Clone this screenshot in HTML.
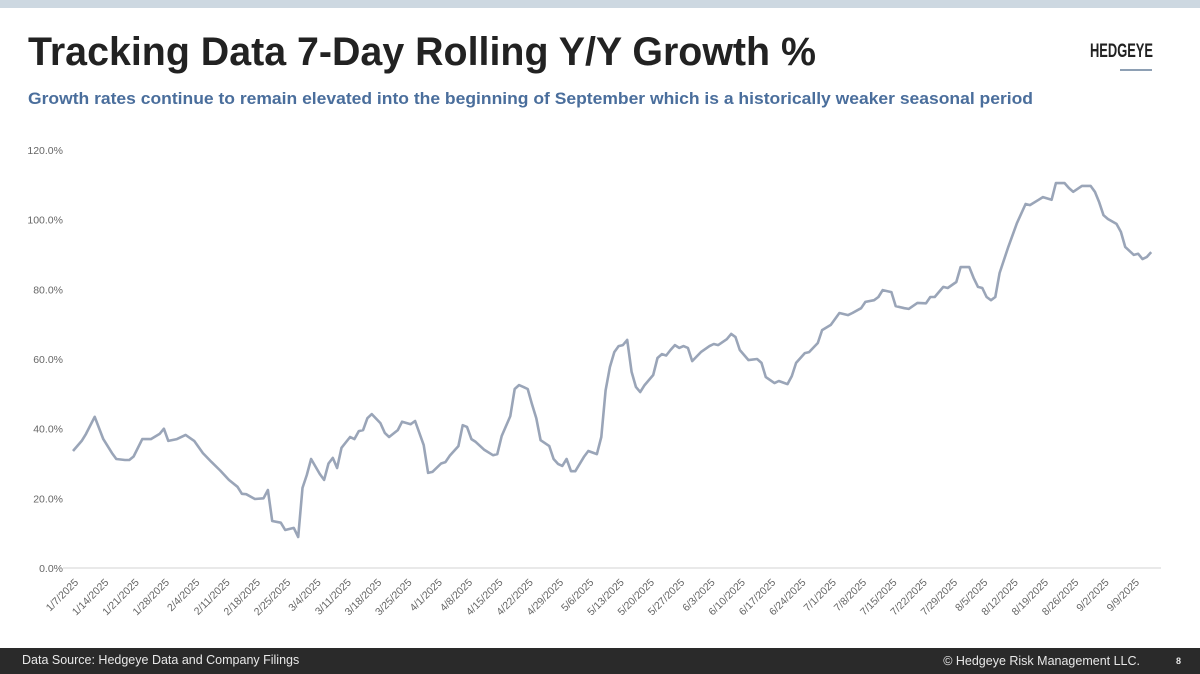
<!DOCTYPE html>
<html><head><meta charset="utf-8"><style>
html,body{margin:0;padding:0;background:#fff;}
svg{display:block;font-family:"Liberation Sans",sans-serif;}
</style></head><body>
<svg id="chart" width="1200" height="674" viewBox="0 0 1200 674">
<rect x="0" y="0" width="1200" height="8" fill="#cdd8e1"/>
<text x="28" y="65" font-size="40" font-weight="bold" fill="#222" textLength="788" lengthAdjust="spacingAndGlyphs">Tracking Data 7-Day Rolling Y/Y Growth %</text>
<text x="28" y="104" font-size="17" font-weight="bold" fill="#4a6e9c" textLength="1005" lengthAdjust="spacingAndGlyphs">Growth rates continue to remain elevated into the beginning of September which is a historically weaker seasonal period</text>
<text x="1090" y="57" font-size="19" font-weight="bold" fill="#222" textLength="63" lengthAdjust="spacingAndGlyphs">HEDGEYE</text>
<line x1="1120" y1="70" x2="1152" y2="70" stroke="#8ea0b4" stroke-width="2"/>
<g id="yaxis"></g>
<g id="xaxis"></g>
<line x1="63" y1="568" x2="1161" y2="568" stroke="#e2e2e2" stroke-width="1.5"/>
<path id="series" fill="none" stroke="#9aa5b8" stroke-width="2.6" stroke-linejoin="round"/>
<rect x="0" y="648" width="1200" height="26" fill="#2a2a2a"/>
<text x="22" y="664" font-size="12.5" fill="#e8e8e8">Data Source: Hedgeye Data and Company Filings</text>
<text x="1140" y="665" font-size="12.5" fill="#e8e8e8" text-anchor="end">© Hedgeye Risk Management LLC.</text>
<text x="1176" y="664" font-size="9" font-weight="bold" fill="#e8e8e8">8</text>
</svg>
<script>
const yTicks=[0,20,40,60,80,100,120];
const xTickLabels=["1/7/2025","1/14/2025","1/21/2025","1/28/2025","2/4/2025","2/11/2025","2/18/2025","2/25/2025","3/4/2025","3/11/2025","3/18/2025","3/25/2025","4/1/2025","4/8/2025","4/15/2025","4/22/2025","4/29/2025","5/6/2025","5/13/2025","5/20/2025","5/27/2025","6/3/2025","6/10/2025","6/17/2025","6/24/2025","7/1/2025","7/8/2025","7/15/2025","7/22/2025","7/29/2025","8/5/2025","8/12/2025","8/19/2025","8/26/2025","9/2/2025","9/9/2025"];
const dayOffsets=[0,2,3,5,7,9,10,12,13,14,16,18,20,21,22,24,26,28,30,32,34,36,38,39,40,42,44,45,46,48,49,51,52,53,54,55,57,58,59,60,61,62,64,65,66,67,68,69,71,72,73,75,76,78,79,81,82,83,85,86,87,89,90,91,92,93,95,97,98,99,101,102,103,104,105,106,107,108,110,111,112,113,114,115,116,118,119,121,122,123,124,125,126,127,128,129,130,131,132,134,135,136,137,138,139,140,141,142,143,145,147,148,149,151,152,153,154,156,158,159,160,162,163,165,166,167,169,170,172,173,175,177,179,180,182,183,185,186,187,189,190,192,193,195,197,198,199,201,202,204,205,207,208,209,210,211,212,213,214,216,218,220,221,223,224,226,227,229,230,231,233,235,236,237,238,239,241,242,243,245,246,247,248,249,250];
const growthValues=[33.6,36.5,38.5,43.4,37,33,31.3,31,31,32,37,37,38.5,40,36.5,37,38.2,36.5,33,30.4,28,25.3,23.3,21.3,21.2,19.8,20,22.4,13.5,13,10.9,11.5,8.9,23,26.7,31.3,27,25.3,30,31.6,28.7,34.5,37.6,37,39.3,39.6,43,44.2,41.6,38.8,37.6,39.6,42,41.3,42.2,35.3,27.3,27.6,30,30.4,32.2,35,41,40.5,37,36.2,33.9,32.4,32.7,37.9,43.6,51.4,52.5,52,51.4,47,43,36.7,35,31.3,29.9,29.3,31.3,27.8,27.8,31.9,33.6,32.7,37.6,51,57.7,62,63.7,64,65.5,56.3,52,50.5,52.5,55.4,60.3,61.4,61,62.6,64,63.2,63.7,63.2,59.4,62,63.7,64.3,64,65.7,67.2,66.3,62.6,59.7,60,58.9,54.8,53.1,53.7,52.8,55.1,58.9,61.7,62,64.6,68.3,69.8,73.2,72.6,73.2,74.6,76.4,76.9,77.8,79.8,79.2,75.2,74.6,74.4,76.1,76,77.8,77.8,80.7,80.4,82.1,86.4,86.4,83.3,80.7,80.4,77.8,76.9,77.8,84.7,92.2,99,104.5,104.2,105.7,106.5,105.7,110.5,110.5,109.1,108,109.7,109.7,108,105,101.3,100.2,98.8,96.5,92.2,89.9,90.2,88.7,89.3,90.7];
const NS="http://www.w3.org/2000/svg";
const X0=73,DX=4.33,Y0=568,DY=3.483;
function xScale(d){return X0+d*DX;}
function yScale(v){return Y0-v*DY;}
const ya=document.getElementById('yaxis');
yTicks.forEach(t=>{
  const el=document.createElementNS(NS,'text');
  el.setAttribute('x',63);el.setAttribute('y',yScale(t)+4);
  el.setAttribute('font-size','10.5');el.setAttribute('fill','#666');el.setAttribute('text-anchor','end');
  el.textContent=t.toFixed(1)+'%';
  
  
  ya.appendChild(el);
});
const xa=document.getElementById('xaxis');
xTickLabels.forEach((l,i)=>{
  const x=xScale(i*7)+6,y=583;
  const el=document.createElementNS(NS,'text');
  el.setAttribute('x',x);el.setAttribute('y',y);
  el.setAttribute('font-size','10.5');el.setAttribute('fill','#666');el.setAttribute('text-anchor','end');
  el.setAttribute('transform','rotate(-45 '+x+' '+y+')');
  el.textContent=l;
  
  
  xa.appendChild(el);
});
let d='';
dayOffsets.forEach((o,i)=>{d+=(i?'L':'M')+xScale(o).toFixed(1)+','+yScale(growthValues[i]).toFixed(1);});
document.getElementById('series').setAttribute('d',d);
</script>
</body></html>
